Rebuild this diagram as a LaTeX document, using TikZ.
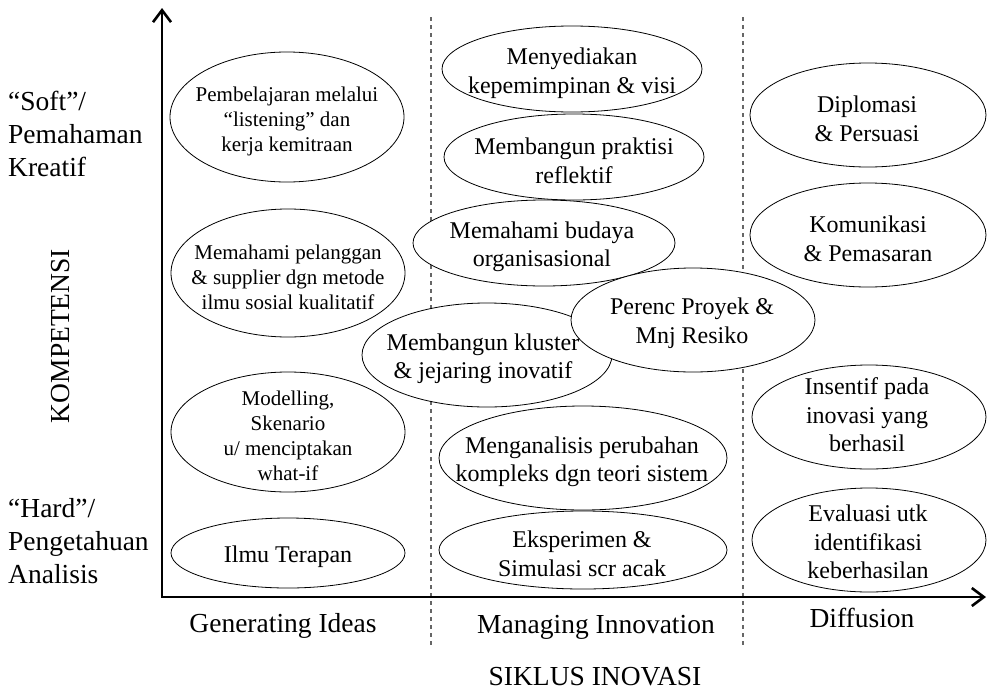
\documentclass[tikz,border=0pt]{standalone}
\usepackage{fontspec}
\setmainfont{Liberation Serif}
\usetikzlibrary{arrows.meta}
\begin{document}
\begin{tikzpicture}[x=1pt,y=-1pt,
  axis/.style={line width=2.6pt, line join=miter,
    {Straight Barb[length=12pt,width=18pt]}-{Straight Barb[length=12pt,width=18pt]}},
  divider/.style={draw=black!60, line width=1.1pt, dash pattern=on 3.5pt off 4.5pt},
  oval/.style={draw=black, line width=0.8pt, fill=white},
  ovaltext/.style={align=center, inner sep=0pt, font=\fontsize{24pt}{28.5pt}\selectfont},
  smalltext/.style={align=center, inner sep=0pt, font=\fontsize{21pt}{25pt}\selectfont},
  axislabel/.style={inner sep=0pt, font=\fontsize{27.5pt}{33pt}\selectfont},
]
\useasboundingbox (0,0) rectangle (988,691);

% phase dividers
\coordinate (d1top) at (431,17);
\coordinate (d1bot) at (431,645);
\coordinate (d2top) at (743,17);
\coordinate (d2bot) at (743,645);
\draw[divider] (d1top) -- (d1bot);
\draw[divider] (d2top) -- (d2bot);

% Generating Ideas column
\path[oval] (287,117) ellipse [x radius=117pt, y radius=65pt];
\node[smalltext] (listen) at (287,121) {Pembelajaran melalui\\“listening” dan\\kerja kemitraan};
\path[oval] (288,273) ellipse [x radius=117pt, y radius=64pt];
\node[smalltext] (customer) at (288,277) {Memahami pelanggan\\\& supplier dgn metode\\ilmu sosial kualitatif};
\path[oval] (288,432) ellipse [x radius=117pt, y radius=60pt];
\node[smalltext] (model) at (288,436) {Modelling,\\Skenario\\u/ menciptakan\\what-if};
\path[oval] (288,553) ellipse [x radius=117pt, y radius=35pt];
\node[ovaltext] (applied) at (288,557) {Ilmu Terapan};

% Managing Innovation column
\path[oval] (572,69) ellipse [x radius=130pt, y radius=43pt];
\node[ovaltext] (vision) at (572,73) {Menyediakan\\kepemimpinan \& visi};
\path[oval] (574,157) ellipse [x radius=130pt, y radius=43pt];
\node[ovaltext] (reflect) at (574,161) {Membangun praktisi\\reflektif};
\path[oval] (544,243) ellipse [x radius=131pt, y radius=43pt];
\node[ovaltext] (culture) at (542,247) {Memahami budaya\\organisasional};
\path[oval] (487,355) ellipse [x radius=125pt, y radius=52pt];
\node[ovaltext] (cluster) at (483,359) {Membangun kluster\\\& jejaring inovatif};
\path[oval] (693,320) ellipse [x radius=122pt, y radius=52pt];
\node[ovaltext] (project) at (692,323) {Perenc Proyek \&\\Mnj Resiko};
\path[oval] (583,458) ellipse [x radius=144pt, y radius=52pt];
\node[ovaltext] (systems) at (582,462) {Menganalisis perubahan\\kompleks dgn teori sistem};
\path[oval] (583,550) ellipse [x radius=144pt, y radius=39pt];
\node[ovaltext] (experiment) at (582,554) {Eksperimen \&\\Simulasi scr acak};

% Diffusion column
\path[oval] (868,115) ellipse [x radius=118pt, y radius=52pt];
\node[ovaltext] (diplomacy) at (867,119) {Diplomasi\\\& Persuasi};
\path[oval] (868,235) ellipse [x radius=118pt, y radius=52pt];
\node[ovaltext] (marketing) at (868,239) {Komunikasi\\\& Pemasaran};
\path[oval] (869,417) ellipse [x radius=117pt, y radius=52pt];
\node[ovaltext] (incentive) at (867,415) {Insentif pada\\inovasi yang\\berhasil};
\path[oval] (869,540) ellipse [x radius=117pt, y radius=52pt];
\node[ovaltext] (evaluate) at (868,542) {Evaluasi utk\\identifikasi\\keberhasilan};

% axes
\coordinate (ytip) at (162,8);
\coordinate (origin) at (162,597);
\coordinate (xtip) at (986,597);
\draw[axis] (ytip) -- (origin) -- (xtip);

% axis labels
\node[axislabel, anchor=north west, align=left] (softlbl) at (8,91) {“Soft”/\\Pemahaman\\Kreatif};
\node[axislabel, anchor=north west, align=left] (hardlbl) at (8,498) {“Hard”/\\Pengetahuan\\Analisis};
\node[axislabel, rotate=90] (ylabel) at (61,336) {KOMPETENSI};
\node[axislabel, anchor=base] (phase1) at (283,632) {Generating Ideas};
\node[axislabel, anchor=base] (phase2) at (596,633) {Managing Innovation};
\node[axislabel, anchor=base] (phase3) at (862,627) {Diffusion};
\node[axislabel, anchor=base] (xlabel) at (595,685) {SIKLUS INOVASI};
\end{tikzpicture}
\end{document}
